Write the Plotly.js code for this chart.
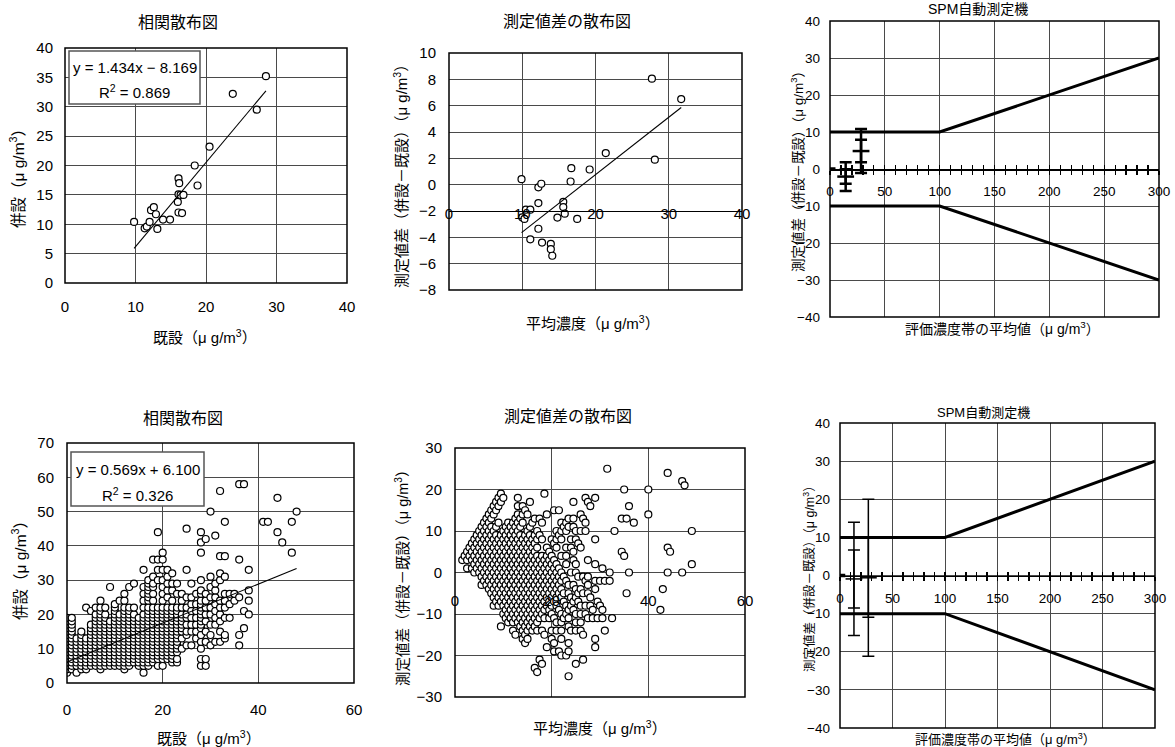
<!DOCTYPE html>
<html><head><meta charset="utf-8">
<script src="https://cdn.plot.ly/plotly-3.0.1.min.js"></script>
<style>html,body{margin:0;padding:0;background:#fff}#chart{width:1175px;height:747px}</style>
</head><body><div id="chart"></div>
<script>
// ---------- DATA ----------
// Top-left: correlation scatter (既設 vs 併設)
const tlX = [9.8, 11.3, 11.6, 12.0, 12.2, 12.6, 12.9, 13.1, 13.9, 14.9, 16.0, 16.1, 16.4, 16.8, 16.1, 16.2, 16.1, 16.6, 18.4, 18.8, 20.5, 23.8, 27.2, 28.5];
const tlY = [10.4, 9.3, 9.6, 10.4, 12.4, 12.9, 11.7, 9.2, 10.8, 10.8, 13.8, 15.1, 15.0, 15.0, 17.8, 17.0, 12.0, 11.9, 20.0, 16.6, 23.2, 32.2, 29.5, 35.2];
const tlFit = [1.434, -8.169];      // slope, intercept
const tlEq = ['y = 1.434x − 8.169', 'R<sup>2</sup> = 0.869'];

// Top-middle: difference scatter
const tmX = [9.9, 10.0, 10.3, 10.5, 11.1, 11.1, 12.2, 12.6, 12.2, 12.2, 12.7, 13.9, 13.9, 14.1, 14.8, 15.6, 15.6, 15.8, 16.6, 16.7, 17.5, 19.2, 21.4, 27.7, 28.1, 31.7];
const tmY = [0.42, -2.49, -2.6, -1.9, -1.9, -4.15, -0.2, 0.07, -1.4, -3.35, -4.4, -4.5, -4.9, -5.4, -2.5, -1.3, -1.7, -2.2, 0.24, 1.25, -2.6, 1.15, 2.4, 8.05, 1.9, 6.5];
const tmFit = [0.436, -7.96];

// SPM criteria lines
const limX = [0, 100, 300];
const limUpper = [10, 10, 30];
const limLower = [-10, -10, -30];
const baseX = [0, 5];
const baseY = [0, 0];
// Top-right error bars (mean, ±1SD, ±2SD)
const spmTopX = [14.3, 28.3];
const spmTopMean = [-2.05, 4.85];
const spmTopSd1 = [1.95, 3.05];
const spmTopSd2 = [3.9, 5.95];
// Bottom-right error bars
const spmBotX = [13.3, 27];
const spmBotMean = [-0.9, -0.6];
const spmBotSd1 = [7.6, 10.35];
const spmBotSd2 = [14.85, 20.6];

// Bottom-left: correlation scatter, columns of 既設 value with their 併設 values
const blCols = [0,1,2,3,4,5,6,7,8,9,10,11,12,13,14,15,16,17,18,19,20,21,22,23,24,25,26,27,28,29,30,31,32,33,34,35,36,37,38,41,42,44,45,47,48];
const blColY = [
 [3,4,5,6,7,8,9,10,11,12,13,14,15,16,17,18,19],
 [4,5,6,7,8,9,10,11,12,13,14,15,16,17,18,19],
 [3,5,6,7,8,9,10,11,12,13],
 [4,5,6,7,8,9,10,11,12,13,14,15],
 [4,5,6,7,8,9,10,11,12,13,22],
 [5,6,7,8,9,10,11,12,13,14,15,16,17,21],
 [5,6,7,8,9,10,11,12,13,14,15,16,17,18,19,20,22],
 [4,5,6,7,8,9,10,11,12,13,14,15,16,17,18,19,20,21,22,24],
 [5,6,7,8,9,10,11,12,13,14,15,16,17,18,19,20,22],
 [5,6,7,8,9,10,11,12,13,14,15,16,17,18,28],
 [5,6,7,8,9,10,11,12,13,14,15,16,17,18,19,20,21,22,23],
 [5,6,7,8,9,10,11,12,13,14,15,16,17,18,19,20,24],
 [4,5,6,7,8,9,10,11,12,13,14,15,16,17,18,19,20,21,22,24,26],
 [5,6,7,8,9,10,11,12,13,14,15,16,17,18,19,20,21,22,28],
 [6,7,8,9,10,11,12,13,14,15,16,17,18,19,20,22,29],
 [5,6,7,8,9,10,11,12,13,14,15,16,17,18,19],
 [3,5,6,7,8,9,10,11,12,13,14,15,16,17,18,19,20,22,24,26,28,33],
 [5,6,7,8,9,10,11,12,13,14,15,16,17,18,19,20,21,22,24,25,26,27,28,29,30],
 [6,7,8,9,10,11,12,13,14,15,16,17,18,19,20,21,22,24,26,28,29,31,36],
 [5,7,8,9,10,11,12,13,14,15,16,17,18,19,20,21,22,30,33,36,44],
 [5,7,8,9,10,11,12,13,14,15,16,17,18,19,20,21,22,24,26,28,30,33,36,38],
 [7,8,9,10,11,12,13,14,15,16,17,18,19,20,21,22,25,27,29,31,33],
 [6,7,8,9,10,11,12,13,14,15,16,17,18,19,20,21,22,24,27,29,32],
 [6,7,9,10,11,12,13,14,15,16,17,18,19,20,21,22,26,29],
 [10,13,15,16,17,18,19,20,22,24,26],
 [11,14,15,17,19,20,22,25,33,45],
 [11,15,17,19,21,23,25,29],
 [13,15,17,19,21,23,26],
 [5,7,10,12,14,16,17,18,19,20,21,22,23,24,26,27,30,38,41,44],
 [5,7,12,15,18,20,22,24,26,42],
 [11,14,17,20,22,25,28,31,50],
 [12,17,19,21,23,25,27,29,43],
 [12,15,18,20,22,24,30,32,37,56],
 [13,14,19,22,24,26,31,37,47],
 [19,23,26],
 [24,26],
 [11,14,25,36,58],
 [16,21,58],
 [20,24,27,33],
 [47],[47],[44,54],[41],[38,47],[50]
];
const blFit = [0.569, 6.100];
const blEq = ['y = 0.569x + 6.100', 'R<sup>2</sup> = 0.326'];

// Titles
const titles = ['相関散布図', '測定値差の散布図', 'SPM自動測定機'];
const xTitles = ['既設（μ g/m<sup>3</sup>）', '平均濃度（μ g/m<sup>3</sup>）', '評価濃度帯の平均値（μ g/m<sup>3</sup>）'];
const yTitles = ['併設（μ g/m<sup>3</sup>）', '測定値差（併設－既設）（μ g/m<sup>3</sup>）'];

// ---------- BUILD ----------
const blX = [], blY = [];
blCols.forEach((c, i) => blColY[i].forEach(v => { blX.push(c); blY.push(v); }));
// difference plot derived from the same pairs
const bmX = blX.map((a, i) => (a + blY[i]) / 2);
const bmY = blX.map((a, i) => blY[i] - a);

function fitLine(xs, fit) {
  const lo = Math.min(...xs), hi = Math.max(...xs);
  return {x: [lo, hi], y: [fit[0] * lo + fit[1], fit[0] * hi + fit[1]]};
}

const W = 1175, H = 747;
const B1 = {l: 65, r: 347, t: 48, b: 283};
const B2 = {l: 449, r: 742, t: 53, b: 290};
const B3 = {l: 830, r: 1159, t: 21, b: 317};
const B4 = {l: 67, r: 354, t: 443, b: 683};
const B5 = {l: 455, r: 745, t: 448, b: 697};
const B6 = {l: 840, r: 1155, t: 423, b: 728};
const dX = B => [B.l / W, B.r / W];
const dY = B => [1 - B.b / H, 1 - B.t / H];
const yF = (B, v, lo, hi) => 1 - (B.b - (v - lo) / (hi - lo) * (B.b - B.t)) / H;

const FONT = 'Liberation Sans, Arial, "Noto Sans CJK JP", sans-serif';
const GRID = '#4a4a4a';
const mk = {symbol: 'circle', size: 7, color: '#fff', line: {color: '#000', width: 1.2}};

const traces = [];
// P1
traces.push({type: 'scatter', mode: 'markers', x: tlX, y: tlY, xaxis: 'x', yaxis: 'y', marker: mk});
const f1 = fitLine(tlX, tlFit);
traces.push({type: 'scatter', mode: 'lines', x: f1.x, y: f1.y, xaxis: 'x', yaxis: 'y', line: {color: '#000', width: 1.1}});
// P2
traces.push({type: 'scatter', mode: 'markers', x: tmX, y: tmY, xaxis: 'x2', yaxis: 'y2', marker: mk});
const f2 = fitLine(tmX, tmFit);
traces.push({type: 'scatter', mode: 'lines', x: f2.x, y: f2.y, xaxis: 'x2', yaxis: 'y2', line: {color: '#000', width: 1.1}});
// P4
traces.push({type: 'scatter', mode: 'markers', x: blX, y: blY, xaxis: 'x4', yaxis: 'y4', marker: mk});
const f4 = fitLine(blX, blFit);
traces.push({type: 'scatter', mode: 'lines', x: f4.x, y: f4.y, xaxis: 'x4', yaxis: 'y4', line: {color: '#000', width: 1.1}});
// P5
traces.push({type: 'scatter', mode: 'markers', x: bmX, y: bmY, xaxis: 'x5', yaxis: 'y5', marker: mk});

// SPM panels
function spm(xa, xb, ya, ex, em, s1, s2, th, cw) {
  traces.push({type: 'scatter', mode: 'lines', x: limX, y: limUpper, xaxis: xa, yaxis: ya, line: {color: '#000', width: 3}});
  traces.push({type: 'scatter', mode: 'lines', x: limX, y: limLower, xaxis: xa, yaxis: ya, line: {color: '#000', width: 3}});
  traces.push({type: 'scatter', mode: 'lines', x: baseX, y: baseY, xaxis: xa, yaxis: ya, line: {color: '#000', width: 3.5}});
  traces.push({type: 'scatter', mode: 'markers', x: ex, y: em, xaxis: xb, yaxis: ya,
    marker: {size: 1, color: 'rgba(0,0,0,0)'},
    error_y: {type: 'data', array: s2, visible: true, color: '#000', thickness: th, width: cw}});
  traces.push({type: 'scatter', mode: 'markers', x: ex, y: em, xaxis: xb, yaxis: ya,
    marker: {symbol: 'line-ew', size: cw * 2, line: {color: '#000', width: th}},
    error_y: {type: 'data', array: s1, visible: true, color: '#000', thickness: th, width: cw}});
}
spm('x3', 'x7', 'y3', spmTopX, spmTopMean, spmTopSd1, spmTopSd2, 2.5, 6);
spm('x6', 'x8', 'y6', spmBotX, spmBotMean, spmBotSd1, spmBotSd2, 1.5, 6);

const base = {showgrid: true, gridcolor: GRID, gridwidth: 1, zeroline: false, showline: false,
  ticks: '', tickfont: {size: 15, color: '#000'}, fixedrange: true};
const spmTick = {size: 13.5, color: '#000'};

const layout = {
  width: W, height: H, margin: {l: 0, r: 0, t: 0, b: 0},
  paper_bgcolor: '#fff', plot_bgcolor: '#fff', showlegend: false,
  font: {family: FONT, color: '#000', size: 14},
  xaxis: Object.assign({}, base, {domain: dX(B1), range: [0, 40], dtick: 10, anchor: 'y', ticklabelstandoff: 13}),
  yaxis: Object.assign({}, base, {domain: dY(B1), range: [0, 40], dtick: 5, anchor: 'x', ticklabelstandoff: 11}),
  xaxis2: Object.assign({}, base, {domain: dX(B2), range: [0, 40], dtick: 10, anchor: 'free',
    position: yF(B2, -2, -8, 10), showline: true, linecolor: '#000', linewidth: 1.2, ticklabelstandoff: -11}),
  yaxis2: Object.assign({}, base, {domain: dY(B2), range: [-8, 10], dtick: 2, anchor: 'x2', ticklabelstandoff: 12}),
  xaxis3: Object.assign({}, base, {domain: dX(B3), range: [0, 300], dtick: 50, anchor: 'free',
    position: yF(B3, 0, -40, 40), showline: true, linecolor: '#000', linewidth: 1.5,
    ticks: 'outside', ticklen: 4, tickwidth: 1.2, tickcolor: '#000', ticklabelstandoff: 5,
    tickfont: spmTick,
    minor: {dtick: 10, ticks: 'outside', ticklen: 4, tickwidth: 1.2, tickcolor: '#000', showgrid: false}}),
  xaxis7: Object.assign({}, base, {domain: dX(B3), range: [0, 300], dtick: 50, anchor: 'free', overlaying: 'x3',
    position: yF(B3, 0, -40, 40), showgrid: false, showticklabels: false,
    ticks: 'inside', ticklen: 4, tickwidth: 1.2, tickcolor: '#000',
    minor: {dtick: 10, ticks: 'inside', ticklen: 4, tickwidth: 1.2, tickcolor: '#000', showgrid: false}}),
  yaxis3: Object.assign({}, base, {domain: dY(B3), range: [-40, 40], dtick: 10, anchor: 'x3', ticklabelstandoff: 9,
    tickfont: spmTick}),
  xaxis4: Object.assign({}, base, {domain: dX(B4), range: [0, 60], dtick: 20, anchor: 'y4', ticklabelstandoff: 16}),
  yaxis4: Object.assign({}, base, {domain: dY(B4), range: [0, 70], dtick: 10, anchor: 'x4', ticklabelstandoff: 12}),
  xaxis5: Object.assign({}, base, {domain: dX(B5), range: [0, 60], dtick: 20, anchor: 'free',
    position: 1 - 590 / H}),
  yaxis5: Object.assign({}, base, {domain: dY(B5), range: [-30, 30], dtick: 10, anchor: 'x5', ticklabelstandoff: 12}),
  xaxis6: Object.assign({}, base, {domain: dX(B6), range: [0, 300], dtick: 50, anchor: 'free',
    position: yF(B6, 0, -40, 40), showline: true, linecolor: '#000', linewidth: 1.5,
    ticks: 'outside', ticklen: 4, tickwidth: 1.2, tickcolor: '#000', ticklabelstandoff: 6,
    tickfont: spmTick,
    minor: {dtick: 10, ticks: 'outside', ticklen: 4, tickwidth: 1.2, tickcolor: '#000', showgrid: false}}),
  xaxis8: Object.assign({}, base, {domain: dX(B6), range: [0, 300], dtick: 50, anchor: 'free', overlaying: 'x6',
    position: yF(B6, 0, -40, 40), showgrid: false, showticklabels: false,
    ticks: 'inside', ticklen: 4, tickwidth: 1.2, tickcolor: '#000',
    minor: {dtick: 10, ticks: 'inside', ticklen: 4, tickwidth: 1.2, tickcolor: '#000', showgrid: false}}),
  yaxis6: Object.assign({}, base, {domain: dY(B6), range: [-40, 40], dtick: 10, anchor: 'x6', ticklabelstandoff: 9,
    tickfont: spmTick}),
  shapes: [],
  annotations: []
};

[B1, B2, B3, B4, B5, B6].forEach(B => layout.shapes.push({type: 'rect', xref: 'paper', yref: 'paper',
  x0: B.l / W, x1: B.r / W, y0: 1 - B.b / H, y1: 1 - B.t / H, line: {color: '#000', width: 1.5}, layer: 'above'}));

// regression boxes
function eqBox(l, t, r, b, lines, y1, y2) {
  layout.shapes.push({type: 'rect', xref: 'paper', yref: 'paper', x0: l / W, x1: r / W, y0: 1 - b / H, y1: 1 - t / H,
    line: {color: '#555', width: 1.5}, fillcolor: '#fff', layer: 'above'});
  const cx = (l + r) / 2 / W;
  layout.annotations.push({xref: 'paper', yref: 'paper', x: cx, y: 1 - y1 / H, text: lines[0], showarrow: false,
    xanchor: 'center', yanchor: 'middle', font: {size: 15}});
  layout.annotations.push({xref: 'paper', yref: 'paper', x: cx, y: 1 - y2 / H, text: lines[1], showarrow: false,
    xanchor: 'center', yanchor: 'middle', font: {size: 15}});
}
eqBox(69, 51, 200, 104, tlEq, 67, 92);
eqBox(71, 452, 204, 506, blEq, 469, 494);

function txt(s, x, y, size, angle) {
  layout.annotations.push({xref: 'paper', yref: 'paper', x: x / W, y: 1 - y / H, text: s, showarrow: false,
    xanchor: 'center', yanchor: 'middle', textangle: angle || 0, font: {size: size}});
}
txt(titles[0], 178, 22, 16);
txt(xTitles[0], 205, 336, 15);
txt(yTitles[0], 17, 175, 15.5, -90);
txt(titles[1], 567, 21, 16);
txt(xTitles[1], 593, 322, 15);
txt(yTitles[1], 400, 173, 15, -90);
txt(titles[2], 978, 9, 14);
txt(xTitles[2], 1002, 328, 14);
txt(yTitles[1], 797, 168, 13.5, -90);
txt(titles[0], 183, 418, 16);
txt(xTitles[0], 209, 737, 15);
txt(yTitles[0], 19, 567, 15.5, -90);
txt(titles[1], 568, 417, 16);
txt(xTitles[1], 600, 727, 15);
txt(yTitles[1], 402, 575, 14.5, -90);
txt(titles[2], 983, 412, 13);
txt(xTitles[2], 1005, 739, 13);
txt(yTitles[1], 809, 575, 12.5, -90);

Plotly.newPlot('chart', traces, layout, {staticPlot: true, displayModeBar: false});
</script>
</body></html>
